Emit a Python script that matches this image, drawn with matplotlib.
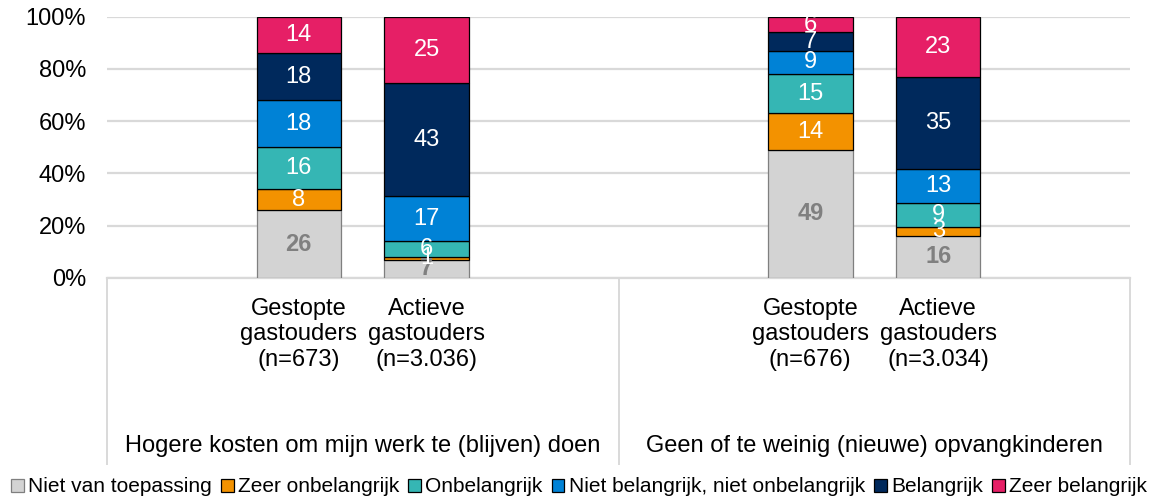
import matplotlib
matplotlib.use("Agg")
import matplotlib.pyplot as plt
from matplotlib.patches import Patch
import numpy as np

plt.rcParams['font.family'] = ['Liberation Sans', 'DejaVu Sans']

# ---- data ----
groups = ["Hogere kosten om mijn werk te (blijven) doen",
          "Geen of te weinig (nieuwe) opvangkinderen"]
bar_labels = ["Gestopte\ngastouders\n(n=673)", "Actieve\ngastouders\n(n=3.036)",
              "Gestopte\ngastouders\n(n=676)", "Actieve\ngastouders\n(n=3.034)"]
series = ["Niet van toepassing", "Zeer onbelangrijk", "Onbelangrijk",
          "Niet belangrijk, niet onbelangrijk", "Belangrijk", "Zeer belangrijk"]
niet_van_toepassing = [26, 6.9, 49, 16.1]
zeer_onbelangrijk = [8, 1.3, 14, 3.4]
onbelangrijk = [16, 6.1, 15, 9.1]
neutraal = [18, 16.9, 9, 13.2]
belangrijk = [18, 43.4, 7, 35.0]
zeer_belangrijk = [14, 25.4, 6, 23.2]
yticks = [0, 20, 40, 60, 80, 100]

values = [niet_van_toepassing, zeer_onbelangrijk, onbelangrijk,
          neutraal, belangrijk, zeer_belangrijk]
colors = ["#D3D3D3", "#F39200", "#35B6B4", "#0082D6", "#00295C", "#E61F66"]
edgecolors = ["#7F7F7F", "#000000", "#000000", "#000000", "#000000", "#000000"]

FS = 17

# positions: 4 slots per group, bars in the middle two slots
slots_per_group = 4
pos = []
for g in range(len(groups)):
    pos += [g * slots_per_group + 1, g * slots_per_group + 2]
pos = np.array(pos, dtype=float)

fig = plt.figure(figsize=(11.58, 4.99), dpi=100)
ax = fig.add_axes([107 / 1158, 1 - 278 / 499, (1130 - 107) / 1158, (278 - 16.7) / 499])

bottom = np.zeros(len(pos))
for i, (vals, c, ec) in enumerate(zip(values, colors, edgecolors)):
    vals = np.array(vals, dtype=float)
    ax.bar(pos, vals, 0.66, bottom=bottom, color=c, edgecolor=ec,
           linewidth=0.9, zorder=3)
    for x, v, b in zip(pos, vals, bottom):
        if i == 0:
            ax.text(x, b + v / 2, f"{v:.0f}", ha='center', va='center',
                    color="#808080", fontsize=FS, fontweight='bold', zorder=4)
        else:
            ax.text(x, b + v / 2, f"{v:.0f}", ha='center', va='center',
                    color="white", fontsize=FS, zorder=4)
    bottom += vals

ntot = slots_per_group * len(groups)
ax.set_xlim(-0.5, ntot - 0.5)
ax.set_ylim(0, 100)
ax.set_yticks(yticks)
ax.set_yticklabels([f"{t}%" for t in yticks], fontsize=FS)
ax.tick_params(axis='y', length=0, pad=15)
ax.set_xticks([])
ax.yaxis.grid(True, color="#D9D9D9", linewidth=1.6, zorder=0)
for s in ax.spines.values():
    s.set_visible(False)

# category axis lines
trans = ax.get_xaxis_transform()
ax.plot([-0.5, ntot - 0.5], [0, 0], transform=trans, color="#D9D9D9",
        linewidth=1.6, clip_on=False, zorder=2)
for g in range(len(groups) + 1):
    xb = g * slots_per_group - 0.5
    ax.plot([xb, xb], [0, -0.71], transform=trans, color="#D9D9D9",
            linewidth=1.4, clip_on=False)

for x, lab in zip(pos, bar_labels):
    ax.text(x, -0.075, lab, transform=trans, ha='center', va='top',
            fontsize=FS, linespacing=1.22)
for g, lab in enumerate(groups):
    xc = g * slots_per_group + (slots_per_group - 1) / 2
    ax.text(xc, -0.643, lab, transform=trans, ha='center', va='center',
            fontsize=FS)

handles = [Patch(facecolor=c, edgecolor=ec, linewidth=0.9) for c, ec in zip(colors, edgecolors)]
fig.legend(handles, series, loc='center', bbox_to_anchor=(0.5, 1 - 487 / 499),
           ncol=6, frameon=False, fontsize=15, handlelength=0.6, handleheight=0.6,
           handletextpad=0.2, columnspacing=0.45, borderaxespad=0, borderpad=0)

fig.savefig("out.png", dpi=100)
